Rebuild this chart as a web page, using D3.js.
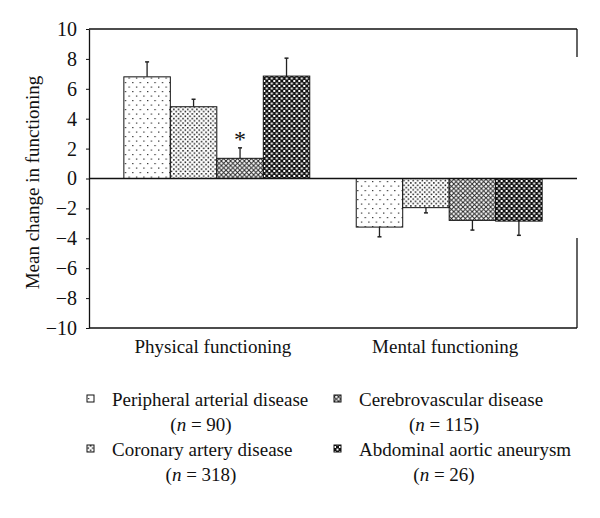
<!DOCTYPE html>
<html>
<head>
<meta charset="utf-8">
<script src="https://cdn.jsdelivr.net/npm/d3@7"></script>
<style>
  body { margin: 0; background: #fff; }
  text { font-family: "Liberation Serif", "DejaVu Serif", serif; fill: #111; }
</style>
</head>
<body>
<div id="chart"></div>
<script>
var groups = ["Physical functioning", "Mental functioning"];
var series = ["Peripheral arterial disease", "Coronary artery disease", "Cerebrovascular disease", "Abdominal aortic aneurysm"];
var counts = ["90", "318", "115", "26"];
var means = [[6.8, 4.8, 1.35, 6.85], [-3.25, -1.95, -2.8, -2.85]];
var errors = [[1.0, 0.5, 0.7, 1.2], [0.65, 0.35, 0.65, 0.95]];
var yTicks = [-10, -8, -6, -4, -2, 0, 2, 4, 6, 8, 10];
var significant = [[false, false, true, false], [false, false, false, false]];

var W = 600, H = 518,
    pLeft = 89, pRight = 577, pTop = 29, pBottom = 328,
    fs = "19px";

var svg = d3.select("#chart").append("svg")
    .attr("width", W).attr("height", H);

var defs = svg.append("defs");

// fill patterns, one per series
function pattern(id, size, draw) {
  var p = defs.append("pattern").attr("id", id)
      .attr("patternUnits", "userSpaceOnUse")
      .attr("width", size[0]).attr("height", size[1]);
  p.append("rect").attr("width", size[0]).attr("height", size[1]).attr("fill", "#fff");
  draw(p);
}
pattern("p0", [7.4, 9], function (p) {
  p.append("rect").attr("x", 1).attr("y", 1).attr("width", 1.2).attr("height", 1.2).attr("fill", "#222");
  p.append("rect").attr("x", 4.7).attr("y", 5.5).attr("width", 1.2).attr("height", 1.2).attr("fill", "#222");
});
pattern("p1", [4.6, 4.6], function (p) {
  p.append("rect").attr("x", 0.5).attr("y", 0.5).attr("width", 1.5).attr("height", 1.5).attr("fill", "#111");
  p.append("rect").attr("x", 2.8).attr("y", 2.8).attr("width", 1.5).attr("height", 1.5).attr("fill", "#111");
});
pattern("p2", [4.6, 4.6], function (p) {
  p.append("path").attr("d", "M0,0L4.6,4.6M4.6,0L0,4.6").attr("stroke", "#222").attr("stroke-width", 0.95);
});
pattern("p3", [5, 5], function (p) {
  p.select("rect").attr("fill", "#111");
  p.append("rect").attr("x", 0).attr("y", 0).attr("width", 2).attr("height", 2).attr("fill", "#fff");
  p.append("rect").attr("x", 2.5).attr("y", 2.5).attr("width", 2).attr("height", 2).attr("fill", "#fff");
});

var x0 = d3.scaleBand().domain(groups).range([pLeft, pRight])
    .paddingInner(0.2).paddingOuter(0.15);
var x1 = d3.scaleBand().domain(series).range([0, x0.bandwidth()]);
var y = d3.scaleLinear().domain([-10, 10]).range([pBottom, pTop]);

var yAxis = d3.axisLeft(y).tickValues(yTicks).tickSize(3).tickPadding(9).tickSizeOuter(0);
var ga = svg.append("g").attr("transform", "translate(" + pLeft + ",0)").call(yAxis);
ga.attr("font-size", 20).attr("font-family", "Liberation Serif");
ga.select(".domain").attr("stroke", "#111").attr("stroke-width", 1.3);
ga.selectAll(".tick line").attr("stroke", "#111");
ga.selectAll(".tick text").attr("fill", "#111");

// frame: top, bottom, broken right edge
var frame = svg.append("g").attr("stroke", "#111").attr("stroke-width", 1.3).attr("fill", "none");
frame.append("line").attr("x1", pLeft).attr("x2", pRight).attr("y1", y(10)).attr("y2", y(10));
frame.append("line").attr("x1", pLeft).attr("x2", pRight).attr("y1", y(-10)).attr("y2", y(-10));
frame.append("line").attr("x1", pRight).attr("x2", pRight).attr("y1", y(10)).attr("y2", 57);
frame.append("line").attr("x1", pRight).attr("x2", pRight).attr("y1", 238).attr("y2", y(-10));

var rows = [];
groups.forEach(function (g, gi) {
  series.forEach(function (s, si) {
    rows.push({g: g, s: s, si: si, v: means[gi][si], e: errors[gi][si], sig: significant[gi][si]});
  });
});

var bar = svg.append("g").selectAll("g").data(rows).enter().append("g")
    .attr("transform", function (d) { return "translate(" + (x0(d.g) + x1(d.s)) + ",0)"; });

// error bars (drawn first, bar covers the base)
bar.each(function (d) {
  var sel = d3.select(this), cx = x1.bandwidth() / 2,
      end = d.v >= 0 ? d.v + d.e : d.v - d.e;
  sel.append("line").attr("x1", cx).attr("x2", cx)
    .attr("y1", y(d.v)).attr("y2", y(end)).attr("stroke", "#222").attr("stroke-width", 1.3);
  sel.append("line").attr("x1", cx - 2).attr("x2", cx + 2)
    .attr("y1", y(end)).attr("y2", y(end)).attr("stroke", "#222").attr("stroke-width", 1.5);
  if (d.sig) {
    sel.append("text").attr("x", cx).attr("y", y(end) - 1)
      .attr("text-anchor", "middle").style("font-size", "24px").text("*");
  }
});

bar.append("rect")
    .attr("x", 0)
    .attr("width", x1.bandwidth())
    .attr("y", function (d) { return y(Math.max(0, d.v)); })
    .attr("height", function (d) { return Math.abs(y(d.v) - y(0)); })
    .attr("fill", function (d) { return "url(#p" + d.si + ")"; })
    .attr("stroke", "#111").attr("stroke-width", 1);

svg.append("line").attr("x1", pLeft).attr("x2", pRight).attr("y1", y(0)).attr("y2", y(0))
    .attr("stroke", "#111").attr("stroke-width", 1.3);

svg.append("g").selectAll("text").data(groups).enter().append("text")
    .attr("x", function (d) { return x0(d) + x0.bandwidth() / 2 - 4; })
    .attr("y", 353)
    .attr("text-anchor", "middle").style("font-size", fs)
    .text(function (d) { return d; });

svg.append("text")
    .attr("transform", "translate(39," + (y(0) + 4) + ") rotate(-90)")
    .attr("text-anchor", "middle").style("font-size", fs)
    .text("Mean change in functioning");

// legend, two columns
var legPos = [[87, 406], [87, 456], [334, 406], [334, 456]];
var leg = svg.append("g").selectAll("g").data(series).enter().append("g")
    .attr("transform", function (d, i) { return "translate(" + legPos[i][0] + "," + legPos[i][1] + ")"; });
leg.append("rect").attr("x", 0).attr("y", -11).attr("width", 7).attr("height", 7)
    .attr("fill", function (d, i) { return "url(#p" + i + ")"; })
    .attr("stroke", "#111").attr("stroke-width", 1);
leg.append("text").attr("x", 25).attr("y", 0).style("font-size", fs)
    .text(function (d) { return d; });
leg.append("text").attr("x", function (d, i) { return i < 2 ? 114 : 110; }).attr("y", 25)
    .attr("text-anchor", "middle").style("font-size", fs)
    .html(function (d, i) { return "(<tspan font-style='italic'>n</tspan> = " + counts[i] + ")"; });
</script>
</body>
</html>
